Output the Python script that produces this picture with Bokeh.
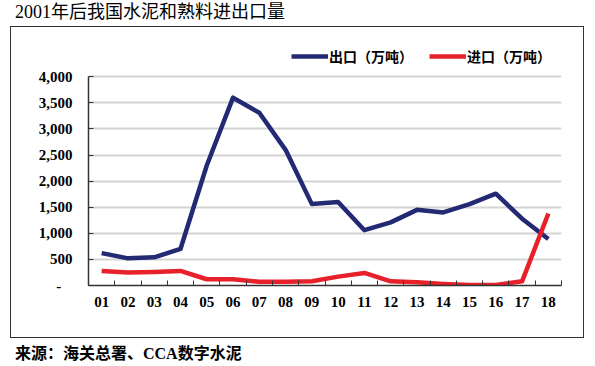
from bokeh.plotting import figure
from bokeh.models import FixedTicker, Range1d, Legend, LegendItem, Div, ColumnDataSource
from bokeh.layouts import column
from bokeh.embed import file_html
from bokeh.resources import INLINE

years = ["01", "02", "03", "04", "05", "06", "07", "08", "09", "10",
         "11", "12", "13", "14", "15", "16", "17", "18"]
export_vals = [620, 520, 540, 700, 2300, 3600, 3310, 2600, 1560, 1600,
               1060, 1210, 1450, 1400, 1560, 1760, 1280, 890]
import_vals = [280, 250, 260, 280, 120, 120, 70, 70, 80, 170,
               240, 80, 60, 30, 10, 10, 80, 1380]
y_ticks = [0, 500, 1000, 1500, 2000, 2500, 3000, 3500, 4000]
y_labels = ["-\u00a0\u00a0\u00a0", "500", "1,000", "1,500", "2,000", "2,500", "3,000", "3,500", "4,000"]
title_text = "2001年后我国水泥和熟料进出口量"
source_text = "来源：海关总署、CCA数字水泥"
legend_labels = ["出口（万吨）", "进口（万吨）"]

xs = list(range(1, len(years) + 1))
src = ColumnDataSource(dict(x=xs, exp=export_vals, imp=import_vals))

SERIF = "'Liberation Serif', 'Noto Sans CJK SC'"

# frame extends above 4000 to leave room for the legend; axis line bounded at 4000
p = figure(frame_width=471, frame_height=243, output_backend="svg", toolbar_location=None,
           x_range=Range1d(0.5, len(years) + 0.5), y_range=Range1d(0, 4696),
           min_border_left=77, min_border_right=24, min_border_top=13, min_border_bottom=54,
           background_fill_color="white", border_fill_color="white")
p.outline_line_color = None
p.styles = {"border": "1px solid #333333"}

r1 = p.line("x", "exp", source=src, line_color="#232a73", line_width=4.5, line_join="round")
r2 = p.line("x", "imp", source=src, line_color="#e8202a", line_width=4.5, line_join="round")

# x axis
xa = p.xaxis[0]
xa.ticker = FixedTicker(ticks=xs, minor_ticks=[i + 0.5 for i in range(len(years) + 1)])
xa.major_label_overrides = {x: lab for x, lab in zip(xs, years)}
xa.major_tick_line_color = None
xa.minor_tick_in = 5
xa.minor_tick_out = 0
xa.minor_tick_line_color = "#333333"
xa.axis_line_color = "#333333"
xa.axis_line_width = 1.5
xa.major_label_standoff = 5
xa.major_label_text_font = SERIF
xa.major_label_text_font_style = "bold"
xa.major_label_text_font_size = "15px"
xa.major_label_text_color = "black"

# y axis
ya = p.yaxis[0]
ya.ticker = FixedTicker(ticks=y_ticks)
ya.bounds = (0, 4000)
ya.major_label_overrides = {t: lab for t, lab in zip(y_ticks, y_labels)}
ya.major_tick_in = 5
ya.major_tick_out = 0
ya.major_tick_line_color = "#333333"
ya.minor_tick_line_color = None
ya.axis_line_color = "#333333"
ya.axis_line_width = 1.5
ya.major_label_standoff = 16
ya.major_label_text_font = SERIF
ya.major_label_text_font_style = "bold"
ya.major_label_text_font_size = "15px"
ya.major_label_text_color = "black"

p.xgrid.grid_line_color = None
p.ygrid.grid_line_color = "#d4d4d4"
p.ygrid.grid_line_width = 2

legend = Legend(items=[LegendItem(label=legend_labels[0], renderers=[r1]),
                       LegendItem(label=legend_labels[1], renderers=[r2])],
                orientation="horizontal", location=(203, 219),
                glyph_width=37, glyph_height=18, label_standoff=1, spacing=16,
                padding=0, margin=0, border_line_color=None, background_fill_alpha=0,
                label_text_font="Noto Sans CJK SC", label_text_font_style="bold",
                label_text_font_size="14px", label_text_color="black")
p.add_layout(legend, "center")

title_div = Div(text=title_text, width=574, height=16,
                styles={"font-family": SERIF, "font-size": "18px", "color": "black",
                        "line-height": "14px", "white-space": "nowrap"})
source_div = Div(text=source_text, width=574, height=28,
                 styles={"font-family": SERIF, "font-size": "16px", "font-weight": "bold",
                         "color": "black", "line-height": "22px", "white-space": "nowrap"})

layout = column(title_div, p, source_div, spacing=0, margin=(0, 0, 0, 10))

open("out.html", "w").write(file_html(layout, INLINE))
